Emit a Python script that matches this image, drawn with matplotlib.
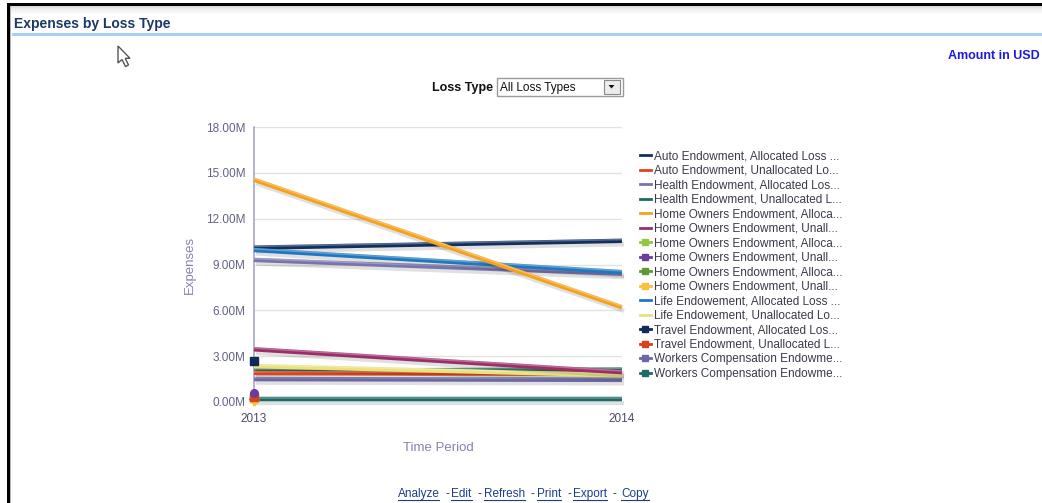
import matplotlib
matplotlib.use("Agg")
import numpy as np
import matplotlib.pyplot as plt
from matplotlib.lines import Line2D
from matplotlib.patches import Rectangle, Polygon
import matplotlib.patheffects as pe

# ---- data (millions of USD) ----
years = [2013, 2014]
y_ticks = [0, 3, 6, 9, 12, 15, 18]
y_tick_labels = ["0.00M", "3.00M", "6.00M", "9.00M", "12.00M", "15.00M", "18.00M"]

series_labels = [
    "Auto Endowment, Allocated Loss ...",
    "Auto Endowment, Unallocated Lo...",
    "Health Endowment, Allocated Los...",
    "Health Endowment, Unallocated L...",
    "Home Owners Endowment, Alloca...",
    "Home Owners Endowment, Unall...",
    "Home Owners Endowment, Alloca...",
    "Home Owners Endowment, Unall...",
    "Home Owners Endowment, Alloca...",
    "Home Owners Endowment, Unall...",
    "Life Endowement, Allocated Loss ...",
    "Life Endowement, Unallocated Lo...",
    "Travel Endowment, Allocated Los...",
    "Travel Endowment, Unallocated L...",
    "Workers Compensation Endowme...",
    "Workers Compensation Endowme...",
]
auto_alloc = [10.10, 10.55]
auto_unalloc = [1.90, 1.85]
health_alloc = [9.30, 8.40]
health_unalloc = [2.05, 2.12]
home_alloc_1 = [14.55, 6.20]
home_unalloc_1 = [3.45, 1.95]
home_alloc_2 = [0.28, np.nan]
home_unalloc_2 = [0.62, np.nan]
home_alloc_3 = [0.22, np.nan]
home_unalloc_3 = [0.05, np.nan]
life_alloc = [9.95, 8.50]
life_unalloc = [2.35, 1.75]
travel_alloc = [2.70, np.nan]
travel_unalloc = [0.30, np.nan]
workers_1 = [1.50, 1.45]
workers_2 = [0.18, 0.18]

series_values = [auto_alloc, auto_unalloc, health_alloc, health_unalloc,
                 home_alloc_1, home_unalloc_1, home_alloc_2, home_unalloc_2,
                 home_alloc_3, home_unalloc_3, life_alloc, life_unalloc,
                 travel_alloc, travel_unalloc, workers_1, workers_2]

colors = ["#12305f", "#e0441c", "#7874ad", "#1d6b5c", "#f4a11c", "#9c2d68",
          "#93c83e", "#6a3d9c", "#5e9a33", "#f9c23a", "#1f78bf", "#e8e27e",
          "#0f2b5a", "#d9401b", "#6c68a8", "#1d6a66"]
markers = [None, None, None, None, None, None,
           "s", "o", "D", "P", None, None,
           "s", "s", "s", "s"]

# ---- figure ----
W, H = 1042, 503
fig = plt.figure(figsize=(W / 100, H / 100), dpi=100)
fig.patch.set_facecolor("white")

# page overlay in pixel coordinates
page = fig.add_axes([0, 0, 1, 1], zorder=0)
page.set_xlim(0, W)
page.set_ylim(H, 0)
page.axis("off")

# window frame
page.add_patch(Rectangle((8, 3), W - 8, 3, color="black", lw=0))
page.add_patch(Rectangle((7, 3), 3, H - 3, color="black", lw=0))
page.add_patch(Rectangle((10, 6), 1, H - 6, color="#b5b5b5", lw=0))
for i, c in enumerate(["#d9d9d9", "#e1e1e1", "#e8e8e8", "#eeeeee", "#f2f2f2",
                       "#f5f5f5", "#f8f8f8", "#fbfbfb"]):
    page.add_patch(Rectangle((11, 6 + i), W - 11, 1, color=c, lw=0))

# title bar
page.text(14, 28, "Expenses by Loss Type", fontsize=10, fontweight="bold",
          color="#1c3866", family="Liberation Sans", va="baseline", ha="left")
page.add_patch(Rectangle((12, 33), W - 12, 3, color="#a8cff3", lw=0))
page.text(1040, 59, "Amount in USD", fontsize=9, fontweight="bold",
          color="#1b1be0", family="Liberation Sans", va="baseline", ha="right")

# mouse pointer
cursor = Polygon([(118, 46), (118, 63), (122, 59.5), (125.5, 66.5), (128.5, 65),
                  (125.2, 58.3), (130, 58.3)], closed=True,
                 facecolor="white", edgecolor="#555555", lw=1.0)
page.add_patch(cursor)

# prompt
page.text(493, 90.5, "Loss Type", fontsize=9, fontweight="bold", color="#111111",
          family="Liberation Sans", va="baseline", ha="right")
page.add_patch(Rectangle((496.5, 77.5), 126, 18, facecolor="white",
                         edgecolor="#9a9a9a", lw=1))
page.text(500, 90.5, "All Loss Types", fontsize=8.5, color="#111111",
          family="Liberation Sans", va="baseline", ha="left")
page.add_patch(Rectangle((603.5, 79.5), 16, 14, facecolor="#ececec",
                         edgecolor="#8a8a8a", lw=0.8))
page.add_patch(Polygon([(608.5, 85), (614.5, 85), (611.5, 88.5)], closed=True,
                       color="#111111", lw=0))

# ---- chart ----
ax = fig.add_axes([254 / W, 1 - 402 / H, (622 - 254) / W, (402 - 127) / H], zorder=2)
ax.set_facecolor("none")
ax.set_xlim(2013, 2014)
ax.set_ylim(0, 18)
ax.set_yticks(y_ticks)
ax.set_yticklabels(y_tick_labels)
ax.set_xticks(years)
ax.set_xticklabels([str(y) for y in years])
ax.tick_params(axis="both", length=0, labelsize=8.5)
ax.tick_params(axis="y", pad=6, labelcolor="#62628a")
ax.tick_params(axis="x", pad=8, labelcolor="#4a4a6a")
for lbl in ax.get_xticklabels() + ax.get_yticklabels():
    lbl.set_family("Liberation Sans")
ax.grid(axis="y", color="#e2e2e2", lw=1)
ax.set_axisbelow(True)
for s in ["top", "right", "bottom"]:
    ax.spines[s].set_visible(False)
ax.spines["left"].set_color("#a8a6cc")
ax.spines["left"].set_linewidth(1.2)

ax.set_ylabel("Expenses", fontsize=9.5, color="#8482b4", family="Liberation Sans",
              labelpad=7)
ax.set_xlabel("Time Period", fontsize=9.5, color="#8482ae", family="Liberation Sans",
              labelpad=12)

# soft drop shadow below each line plus a faint highlight along its top edge
line_effects = [
    pe.SimpleLineShadow(offset=(1.5, -2.5), shadow_color="#000000", alpha=0.12),
    pe.Normal(),
    pe.SimpleLineShadow(offset=(0, 0.9), shadow_color="#ffffff", alpha=0.3,
                        linewidth=1.1),
]

draw_order = [15, 14, 3, 1, 11, 5, 2, 0, 10, 4]
for i in draw_order:
    ax.plot(years, series_values[i], color=colors[i], lw=3.2,
            solid_capstyle="butt", path_effects=line_effects, clip_on=False,
            zorder=3)

for i in [12, 6, 8, 9, 13, 7]:
    ax.plot(years, series_values[i], color=colors[i], lw=0, marker=markers[i],
            ms=5.5, mec=colors[i], clip_on=False, zorder=5)

handles = []
for i, lab in enumerate(series_labels):
    if markers[i] is None:
        h = Line2D([], [], color=colors[i], lw=2)
    else:
        h = Line2D([], [], color=colors[i], lw=2, marker="s", ms=5,
                   mec=colors[i])
    handles.append(h)

leg = fig.legend(handles, series_labels, loc="upper left",
                 bbox_to_anchor=(639.5 / W, 1 - 150.5 / H), frameon=False,
                 borderpad=0, borderaxespad=0, handlelength=0.95,
                 handletextpad=0.25, labelspacing=0.21,
                 prop={"family": "Liberation Sans", "size": 8.5})
for t in leg.get_texts():
    t.set_color("#3a3a4a")

# ---- footer links ----
links = ["Analyze", "Edit", "Refresh", "Print", "Export", "Copy"]
gaps = [12, 12, 12, 12, 14]
fig.canvas.draw()
renderer = fig.canvas.get_renderer()
made = []
x = 0.0
for k, word in enumerate(links):
    t = page.text(x, 497, word, fontsize=8.5, family="Liberation Sans",
                  color="#1b3d8c", va="baseline", ha="left")
    width = t.get_window_extent(renderer).width  # pixels == data units here
    made.append((t, x, width))
    x += width
    if k < len(gaps):
        x += gaps[k]
total = x
shift = 523 - total / 2
for k, (t, x0, width) in enumerate(made):
    t.set_x(x0 + shift)
    page.plot([x0 + shift, x0 + shift + width], [499.5, 499.5],
              color="#1b3d8c", lw=0.8)
    if k < len(gaps):
        nxt = made[k + 1][1] + shift
        dash_x = nxt - 4 if k < 4 else nxt - 7
        page.text(dash_x, 497, "-", fontsize=8.5, family="Liberation Sans",
                  color="#333333", va="baseline", ha="center")

fig.savefig("out.png", dpi=100)
